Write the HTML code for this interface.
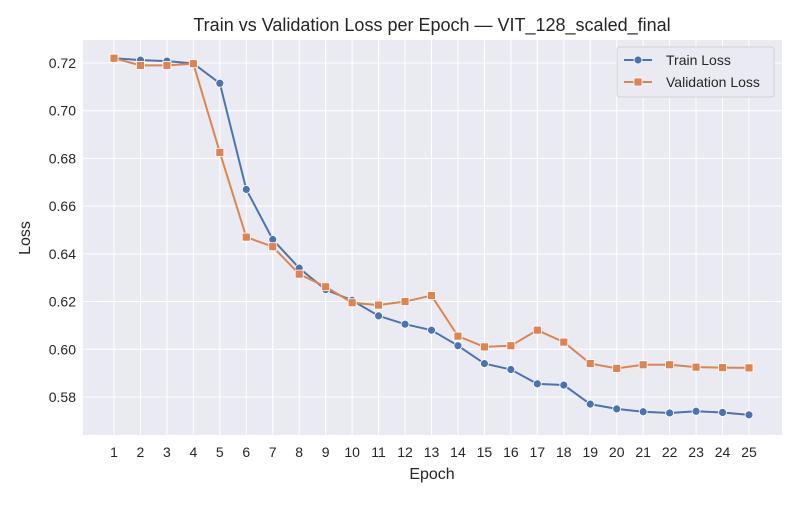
<!DOCTYPE html>
<html><head><meta charset="utf-8"><style>
body{margin:0;background:#fff;font-family:"Liberation Sans","DejaVu Sans",sans-serif;}
svg text{font-family:"Liberation Sans","DejaVu Sans",sans-serif;fill:#262626;}
</style></head><body>
<svg id="chart" width="800" height="500" viewBox="0 0 800 500">
<rect x="83" y="40" width="699" height="395" fill="#eaeaf2"/>
<g id="grid"></g><g id="xt"></g><g id="yt"></g><g id="series"></g>
<text x="432" y="31" font-size="18" text-anchor="middle">Train vs Validation Loss per Epoch — VIT_128_scaled_final</text>
<text x="432" y="479" font-size="16" text-anchor="middle">Epoch</text>
<text x="30" y="238" font-size="16" text-anchor="middle" transform="rotate(-90 30 238)">Loss</text>
<g>
<rect x="617" y="47" width="157" height="50" rx="3" fill="#eaeaf2" stroke="#ccc" stroke-opacity="0.8"/>
<g>
<line x1="624" y1="60" x2="652" y2="60" stroke="#4c72b0" stroke-width="2"/><circle cx="638" cy="60" r="4" fill="#4c72b0" stroke="#fff" stroke-width="0.8"/>
<text x="666" y="65" font-size="14">Train Loss</text></g>
<g>
<line x1="624" y1="82" x2="652" y2="82" stroke="#dd8452" stroke-width="2"/><rect x="634" y="78" width="8" height="8" fill="#dd8452" stroke="#fff" stroke-width="0.8"/>
<text x="666" y="87" font-size="14">Validation Loss</text></g>
</g>
</svg>
<script>
const epochs=[1,2,3,4,5,6,7,8,9,10,11,12,13,14,15,16,17,18,19,20,21,22,23,24,25];
const trainLoss=[0.722,0.7212,0.7208,0.7198,0.7115,0.667,0.646,0.634,0.625,0.6205,0.614,0.6105,0.608,0.6015,0.594,0.5915,0.5855,0.585,0.577,0.575,0.5738,0.5733,0.574,0.5735,0.5725];
const valLoss=[0.722,0.719,0.719,0.7197,0.6825,0.647,0.643,0.6315,0.6262,0.6195,0.6185,0.620,0.6225,0.6055,0.601,0.6015,0.608,0.603,0.594,0.592,0.5935,0.5935,0.5925,0.5923,0.5922];
const yTicks=[0.58,0.60,0.62,0.64,0.66,0.68,0.70,0.72];
const NS="http://www.w3.org/2000/svg";
const xS=e=>114+(e-1)*(749-114)/24;
const yS=v=>63+(0.72-v)/0.02*47.71;
function mk(t,a,p){const el=document.createElementNS(NS,t);for(const k in a)el.setAttribute(k,a[k]);p.appendChild(el);return el;}
const grid=document.getElementById('grid'),xt=document.getElementById('xt'),yt=document.getElementById('yt'),ser=document.getElementById('series');
epochs.forEach(e=>{const x=xS(e);
const g=mk('line',{x1:x,x2:x,y1:40,y2:435,stroke:'#fff','stroke-width':1},grid);


const t=mk('text',{x:x,y:457,'font-size':14,'text-anchor':'middle'},xt);t.textContent=e;

});
yTicks.forEach(v=>{const y=yS(v);
const g=mk('line',{x1:83,x2:782,y1:y,y2:y,stroke:'#fff','stroke-width':1},grid);


const t=mk('text',{x:76,y:y+5,'font-size':14,'text-anchor':'end'},yt);t.textContent=v.toFixed(2);

});
function draw(vals,color,square,name){
const pl=mk('polyline',{points:vals.map((v,i)=>xS(epochs[i])+','+yS(v)).join(' '),fill:'none',stroke:color,'stroke-width':2},ser);


vals.forEach((v,i)=>{const x=xS(epochs[i]),y=yS(v);let m;
if(square)m=mk('rect',{x:x-4,y:y-4,width:8,height:8,fill:color,stroke:'#fff','stroke-width':0.8},ser);
else m=mk('circle',{cx:x,cy:y,r:4,fill:color,stroke:'#fff','stroke-width':0.8},ser);

});}
draw(trainLoss,'#4c72b0',false,'train-loss');
draw(valLoss,'#dd8452',true,'validation-loss');
</script>
</body></html>
